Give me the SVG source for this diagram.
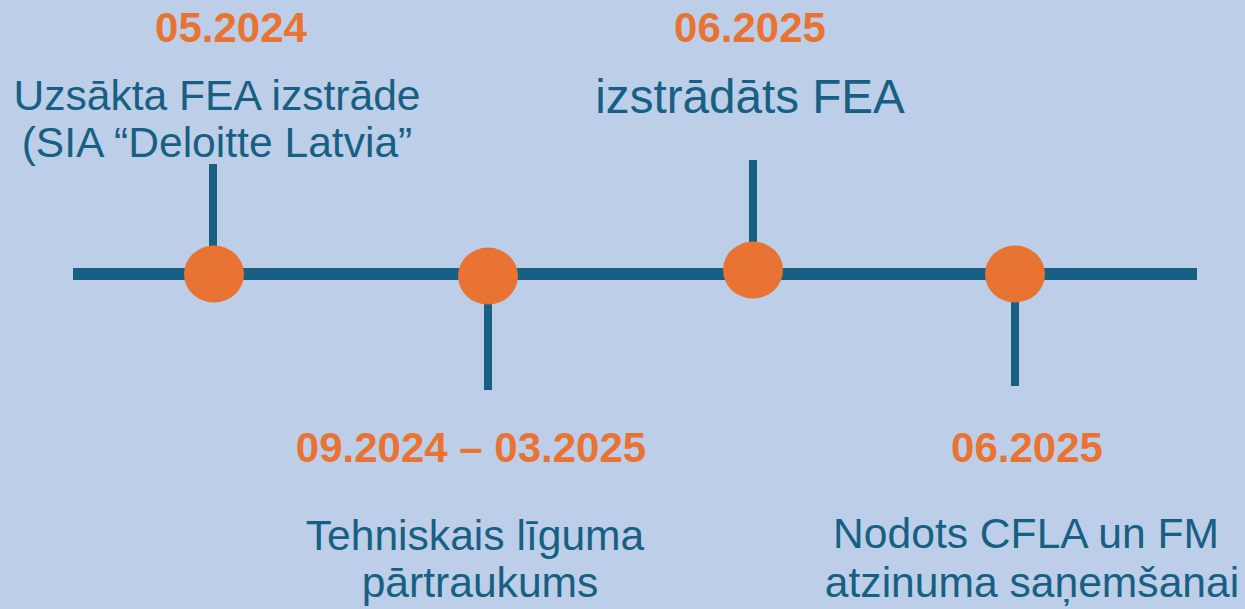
<svg xmlns="http://www.w3.org/2000/svg" width="1245" height="609" viewBox="0 0 1245 609">
<style>
.date{font-family:"Liberation Sans",Arial,sans-serif;font-weight:bold;font-size:42px;fill:#E97333;text-anchor:middle}
.lbl{font-family:"Liberation Sans",Arial,sans-serif;font-size:42.6px;fill:#176083;text-anchor:middle}
.tick{stroke:#176083;stroke-width:8}
.dot{fill:#E97333}
</style>
<rect width="1245" height="609" fill="#BDCFE8"/>
<g id="connectors">
<line x1="73" y1="274" x2="1197" y2="274" stroke="#176083" stroke-width="12"/>
<line class="tick" x1="213" y1="164" x2="213" y2="250"/>
<line class="tick" x1="488" y1="300" x2="488" y2="390"/>
<line class="tick" x1="753" y1="160" x2="753" y2="250"/>
<line class="tick" x1="1015" y1="300" x2="1015" y2="386"/>
</g>
<g id="m1">
<ellipse class="dot" cx="214" cy="274" rx="30" ry="28.5"/>
<text class="date" x="231" y="42">05.2024</text>
<text class="lbl" x="217" y="110">Uzsākta FEA izstrāde</text>
<text class="lbl" x="217" y="157">(SIA “Deloitte Latvia”</text>
</g>
<g id="m2">
<ellipse class="dot" cx="488" cy="276" rx="30" ry="28.5"/>
<text class="date" x="471" y="462">09.2024 – 03.2025</text>
<text class="lbl" x="475" y="550">Tehniskais līguma</text>
<text class="lbl" x="480" y="597">pārtraukums</text>
</g>
<g id="m3">
<ellipse class="dot" cx="753" cy="270" rx="30" ry="28.5"/>
<text class="date" x="750" y="42">06.2025</text>
<text class="lbl" x="750" y="113" style="font-size:47.6px">izstrādāts FEA</text>
</g>
<g id="m4">
<ellipse class="dot" cx="1015" cy="274" rx="30" ry="28.5"/>
<text class="date" x="1027" y="462">06.2025</text>
<text class="lbl" x="1026" y="548">Nodots CFLA un FM</text>
<text class="lbl" x="1032" y="597">atzinuma saņemšanai</text>
</g>
</svg>
